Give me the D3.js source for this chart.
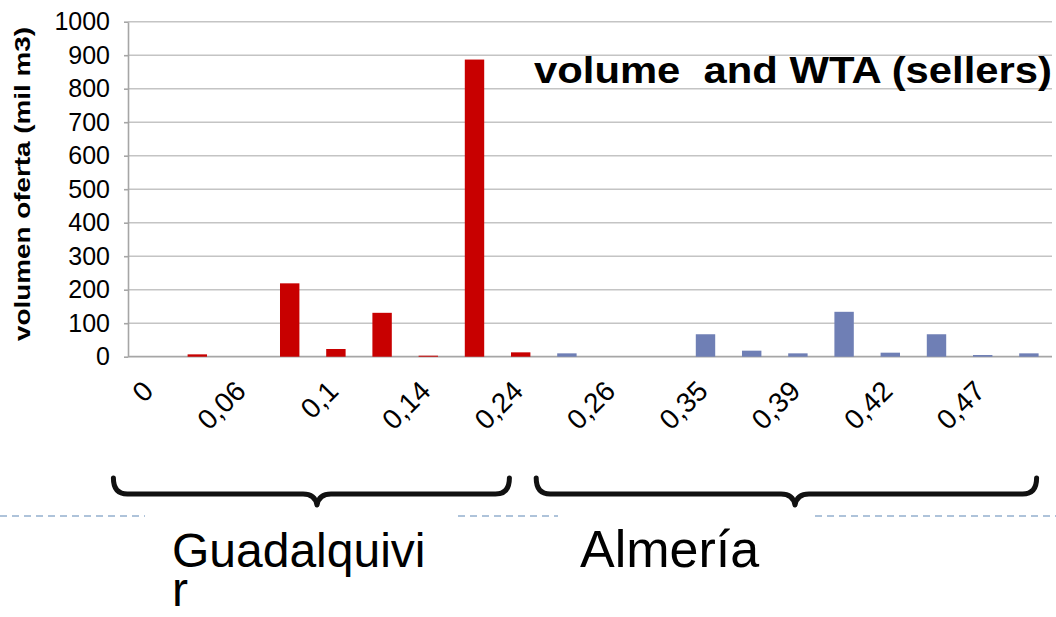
<!DOCTYPE html>
<html>
<head>
<meta charset="utf-8">
<script src="https://cdn.jsdelivr.net/npm/d3@7"></script>
<style>
  html, body { margin: 0; padding: 0; background: #fff; }
  svg { display: block; }
</style>
</head>
<body>
<svg id="chart" width="1056" height="617"></svg>
<script>
// WTA price steps shown on the category axis (every second category is labelled)
const tickLabels = ["0", "0,06", "0,1", "0,14", "0,24", "0,26", "0,35", "0,39", "0,42", "0,47"];
// Offered volume (mil m3) per category; null = no offer
const guadalquivir = [null, 7, null, 219, 23, 131, 3, 887, 13, null, null, null, null, null, null, null, null, null, null, null];
const almeria      = [null, null, null, null, null, null, null, null, null, 10, null, null, 67, 18, 10, 134, 12, 67, 5, 10];
const yTicks = [0, 100, 200, 300, 400, 500, 600, 700, 800, 900, 1000];
const groupLines = [["Guadalquivi", "r"], ["Almería"]];

const svg = d3.select("#chart");
const W = 1056, H = 617;
const FONT = "Liberation Sans, Arial, sans-serif";
svg.append("rect").attr("width", W).attr("height", H).attr("fill", "#fff");

const plot = { left: 128, right: 1052, top: 21.7, bottom: 356.7 };
const cats = d3.range(guadalquivir.length);

const x = d3.scaleBand().domain(cats).range([plot.left, plot.right])
  .paddingInner(0.58).paddingOuter(0.29);
const y = d3.scaleLinear().domain([0, 1000]).range([plot.bottom, plot.top]);

// gridlines
svg.append("g").selectAll("line").data(yTicks.filter(d => d > 0)).join("line")
  .attr("x1", plot.left).attr("x2", plot.right)
  .attr("y1", d => y(d)).attr("y2", d => y(d))
  .attr("stroke", "#c4c4c4").attr("stroke-width", 1.6);

// y axis
const yAxis = svg.append("g").attr("transform", `translate(${plot.left},0)`)
  .call(d3.axisLeft(y).tickValues(yTicks).tickFormat(d3.format("d"))
    .tickSize(4).tickSizeOuter(0).tickPadding(14));
yAxis.select(".domain").attr("stroke", "#a6a6a6").attr("stroke-width", 1.6);
yAxis.selectAll(".tick line").attr("stroke", "#a6a6a6").attr("stroke-width", 1.6);
yAxis.selectAll(".tick text")
  .attr("font-family", FONT).attr("font-size", 25).attr("fill", "#000");

// baseline
svg.append("line").attr("x1", plot.left).attr("x2", plot.right)
  .attr("y1", y(0)).attr("y2", y(0))
  .attr("stroke", "#a6a6a6").attr("stroke-width", 1.8);

// x axis labels
const labelIdx = cats.filter(i => i % 2 === 0);
const xAxis = svg.append("g").attr("transform", `translate(0,${plot.bottom})`)
  .call(d3.axisBottom(x).tickValues(labelIdx).tickSize(0)
    .tickFormat(i => tickLabels[i / 2]));
xAxis.select(".domain").remove();
xAxis.selectAll(".tick text")
  .attr("font-family", FONT).attr("font-size", 28).attr("fill", "#000")
  .attr("text-anchor", "end").attr("dy", null).attr("y", 0)
  .attr("transform", "translate(4,36) rotate(-45)");

// bars
function drawBars(values, color) {
  svg.append("g").selectAll("rect")
    .data(values.map((v, i) => ({ i, v })).filter(d => d.v !== null))
    .join("rect")
    .attr("x", d => x(d.i)).attr("width", x.bandwidth())
    .attr("y", d => y(d.v)).attr("height", d => y(0) - y(d.v))
    .attr("fill", color);
}
drawBars(guadalquivir, "#c80000");
drawBars(almeria, "#6f7fb5");

// y axis title
svg.append("text")
  .attr("transform", "translate(30,184) rotate(-90)")
  .attr("text-anchor", "middle")
  .attr("font-family", FONT).attr("font-weight", "bold").attr("font-size", 22)
  .attr("textLength", 314).attr("lengthAdjust", "spacingAndGlyphs")
  .text("volumen oferta (mil m3)");

// chart title
svg.append("text")
  .attr("x", 534).attr("y", 83)
  .attr("font-family", FONT).attr("font-weight", "bold").attr("font-size", 36)
  .attr("textLength", 518).attr("lengthAdjust", "spacingAndGlyphs")
  .style("white-space", "pre")
  .text("volume  and WTA (sellers)");

// group braces under the category axis
function brace(x0, x1, xm, yTop, yLine, yTip) {
  const r = 14;
  return `M${x0},${yTop} Q${x0},${yLine} ${x0 + r},${yLine} L${xm - 14},${yLine} ` +
         `Q${xm - 2},${yLine} ${xm},${yTip} Q${xm + 2},${yLine} ${xm + 14},${yLine} ` +
         `L${x1 - r},${yLine} Q${x1},${yLine} ${x1},${yTop}`;
}
const braces = [
  { x0: x(0) - 28, x1: x(8) + x.bandwidth() - 21, xm: 317 },
  { x0: x(9) - 21, x1: x(19) + x.bandwidth() - 2, xm: 795 }
];
svg.append("g").selectAll("path").data(braces).join("path")
  .attr("d", d => brace(d.x0, d.x1, d.xm, 478, 494, 505))
  .attr("fill", "none").attr("stroke", "#111").attr("stroke-width", 5)
  .attr("stroke-linecap", "round").attr("stroke-linejoin", "round");

// dashed separators
const dashes = [[0, 145], [458, 558], [815, 1056]];
svg.append("g").selectAll("line").data(dashes).join("line")
  .attr("x1", d => d[0]).attr("x2", d => d[1]).attr("y1", 516).attr("y2", 516)
  .attr("stroke", "#aec3da").attr("stroke-width", 2).attr("stroke-dasharray", "7,5");

// group names (the first one wraps onto a second line)
const groupX = [172, 580];
const groupSize = [48, 52];
groupLines.forEach((lines, g) => {
  const t = svg.append("text")
    .attr("font-family", FONT).attr("font-size", groupSize[g]).attr("fill", "#000");
  lines.forEach((s, k) => {
    t.append("tspan").attr("x", groupX[g]).attr("y", 567 + k * 39).text(s);
  });
});
</script>
</body>
</html>
